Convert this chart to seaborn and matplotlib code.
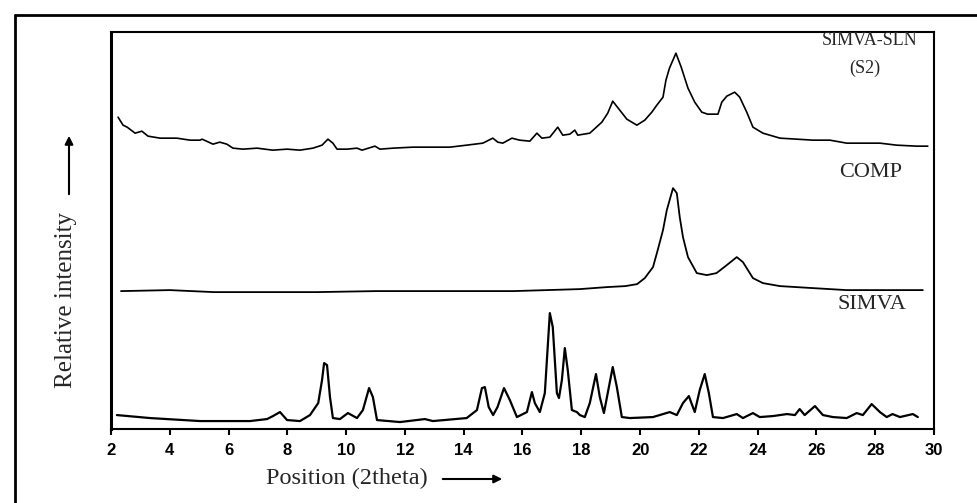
import matplotlib
matplotlib.use("Agg")
import matplotlib.pyplot as plt
from matplotlib.lines import Line2D
import seaborn as sns

# SIMVA-SLN (S2) trace, offset on top
s2_x = [2.24, 2.41, 2.55, 2.82, 3.05, 3.26, 3.67, 4.24, 4.69, 5.03, 5.1, 5.47, 5.7, 5.94,
        6.15, 6.49, 6.97, 7.5, 7.99, 8.43, 8.87, 9.18, 9.38, 9.55, 9.69, 10.03, 10.37, 10.54,
        10.98, 11.15, 11.59, 12.27, 12.95, 13.53, 14.1, 14.65, 14.99, 15.16, 15.33, 15.64,
        15.9, 16.25, 16.49, 16.66, 16.93, 17.2, 17.37, 17.61, 17.78, 17.88, 18.29, 18.7,
        18.9, 19.07, 19.31, 19.55, 19.89, 20.16, 20.4, 20.57, 20.78, 20.88, 21.0, 21.22,
        21.4, 21.63, 21.86, 22.1, 22.3, 22.65, 22.78, 22.95, 23.22, 23.39, 23.63, 23.84,
        24.18, 24.76, 25.33, 25.88, 26.46, 27.03, 27.58, 28.16, 28.73, 29.41, 29.79]
s2_y = [312, 304, 302, 296, 298, 293, 291, 291, 289, 289, 290, 285, 287, 285,
        281, 280, 281, 279, 280, 279, 281, 284, 290, 286, 280, 280, 281, 279,
        283, 280, 281, 282, 282, 282, 284, 286, 291, 287, 286, 291,
        289, 288, 296, 291, 292, 302, 294, 295, 299, 294, 296, 307,
        316, 328, 319, 310, 304, 309, 317, 324, 332, 349, 361, 376,
        362, 341, 327, 317, 315, 315, 327, 333, 337, 332, 317, 302,
        296, 291, 290, 289, 289, 286, 286, 286, 284, 283, 283]

# COMP trace, middle
comp_x = [2.34, 4.0, 5.5, 7.0, 9.0, 11.0, 13.0, 14.55, 15.67, 16.83, 17.95, 18.87, 19.5,
          19.9, 20.16, 20.44, 20.6, 20.78, 20.91, 21.12, 21.25, 21.35, 21.46, 21.63,
          21.93, 22.27, 22.6, 22.95, 23.29, 23.5, 23.84, 24.18, 24.76, 25.88, 27.03,
          28.16, 29.62]
comp_y = [138, 139, 137, 137, 137, 138, 138, 138, 138, 139, 140, 142, 143,
          145, 151, 162, 179, 199, 219, 241, 236, 212, 192, 172,
          156, 154, 156, 164, 172, 167, 151, 146, 143, 141, 139,
          139, 139]

# SIMVA trace, bottom
simva_x = [2.2, 3.33, 5.03, 6.73, 7.31, 7.51, 7.75, 7.99, 8.43, 8.77, 9.05, 9.18, 9.25,
           9.35, 9.45, 9.55, 9.79, 10.06, 10.37, 10.57, 10.78, 10.91, 11.05, 11.83, 12.68,
           12.95, 14.1, 14.45, 14.62, 14.72, 14.85, 15.0, 15.15, 15.37, 15.57, 15.81, 16.15,
           16.32, 16.42, 16.59, 16.76, 16.93, 17.03, 17.17, 17.24, 17.34, 17.44, 17.54,
           17.68, 17.85, 17.95, 18.12, 18.29, 18.5, 18.63, 18.77, 18.9, 19.07, 19.21, 19.38,
           19.65, 20.44, 21.01, 21.25, 21.46, 21.66, 21.86, 22.03, 22.2, 22.34, 22.48, 22.82,
           23.29, 23.5, 23.84, 24.07, 24.52, 25.0, 25.27, 25.43, 25.6, 25.95, 26.22, 26.56,
           27.03, 27.37, 27.58, 27.88, 28.16, 28.39, 28.59, 28.84, 29.28, 29.45]
simva_y = [14, 11, 8, 8, 10, 13, 17, 9, 8, 14, 26, 49, 66,
           64, 32, 11, 10, 16, 11, 19, 41, 32, 9, 7, 10,
           8, 11, 19, 41, 42, 22, 14, 22, 41, 29, 12, 17,
           37, 26, 17, 36, 116, 102, 36, 31, 49, 81, 59,
           19, 17, 14, 12, 26, 55, 32, 16, 36, 62, 42, 12,
           11, 12, 17, 14, 26, 33, 17, 39, 55, 36, 12, 11,
           15, 11, 16, 12, 13, 15, 14, 20, 14, 23, 14, 12,
           11, 16, 14, 25, 17, 12, 15, 12, 15, 12]

x_ticks = list(range(2, 31, 2))

sns.set_style("white")
serif = "Liberation Serif"

fig, ax = plt.subplots(figsize=(9.78, 5.03), dpi=100)
fig.subplots_adjust(left=0.1135, right=0.955, bottom=0.147, top=0.936)

for xs, ys, lw in [(s2_x, s2_y, 1.2), (comp_x, comp_y, 1.3), (simva_x, simva_y, 1.6)]:
    sns.lineplot(x=xs, y=ys, ax=ax, color="black", linewidth=lw,
                 estimator=None, sort=False)

ax.set_xlim(2, 30)
ax.set_ylim(0, 397)
ax.set_xticks(x_ticks)
ax.set_yticks([])
ax.set_xlabel("")
ax.set_ylabel("")
for side, sp in ax.spines.items():
    sp.set_visible(True)
    sp.set_color("black")
    sp.set_linewidth(2.2 if side == "left" else 1.5)
ax.tick_params(axis="x", direction="out", length=4, width=1.5, pad=6,
               labelsize=12, colors="black", bottom=True)
for lab in ax.get_xticklabels():
    lab.set_fontweight("bold")
    lab.set_family("Liberation Sans")

# trace labels
ax.text(0.98, 0.98, "SIMVA-SLN", transform=ax.transAxes, ha="right", va="center",
        fontsize=13, family=serif)
ax.text(0.916, 0.909, "(S2)", transform=ax.transAxes, ha="center", va="center",
        fontsize=13, family=serif)
ax.text(0.923, 0.647, "COMP", transform=ax.transAxes, ha="center", va="center",
        fontsize=16, family=serif)
ax.text(0.925, 0.315, "SIMVA", transform=ax.transAxes, ha="center", va="center",
        fontsize=16, family=serif)

# axis titles with arrows
fig.text(347 / 978, 1 - 478 / 503, "Position (2theta)", ha="center", va="center",
         fontsize=17.5, family=serif)
fig.text(66 / 978, 1 - 300 / 503, "Relative intensity", ha="center", va="center",
         rotation=90, fontsize=18, family=serif)
ax.annotate("", xy=(505 / 978, 1 - 479 / 503), xytext=(440 / 978, 1 - 479 / 503),
            xycoords="figure fraction", textcoords="figure fraction",
            arrowprops=dict(arrowstyle="-|>", color="black", lw=1.5, mutation_scale=12))
ax.annotate("", xy=(69 / 978, 1 - 133 / 503), xytext=(69 / 978, 1 - 197 / 503),
            xycoords="figure fraction", textcoords="figure fraction",
            arrowprops=dict(arrowstyle="-|>", color="black", lw=1.5, mutation_scale=12))

# outer frame (clipped at right and bottom)
fig.add_artist(Line2D([15 / 978, 15 / 978], [0, 1 - 15 / 503], transform=fig.transFigure,
                      color="black", linewidth=2))
fig.add_artist(Line2D([15 / 978, 1], [1 - 15 / 503, 1 - 15 / 503], transform=fig.transFigure,
                      color="black", linewidth=2))

fig.savefig("out.png", dpi=100)
plt.close(fig)
